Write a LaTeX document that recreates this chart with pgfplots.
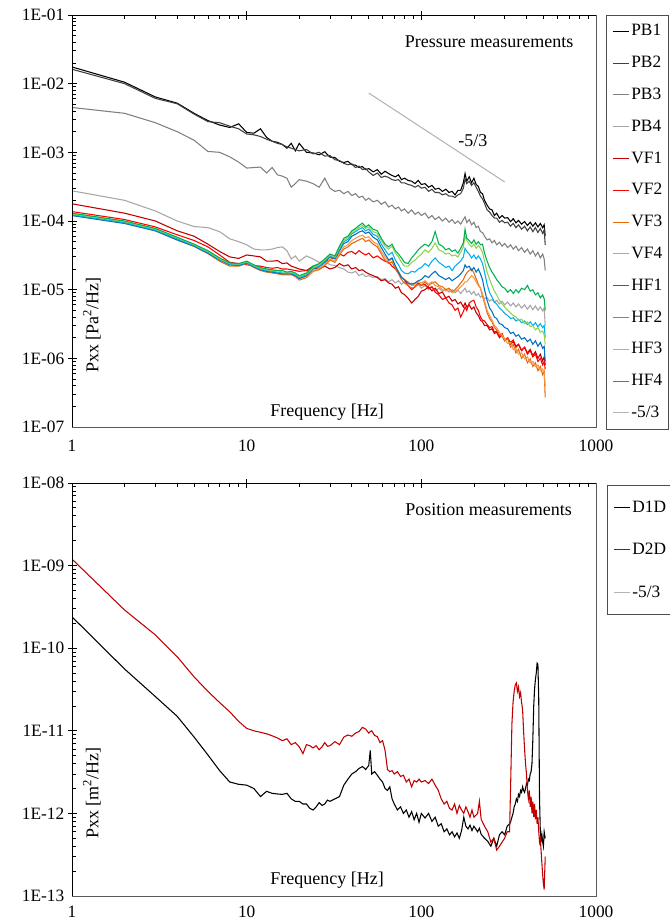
\documentclass[border=0pt]{standalone}
\usepackage{fontspec}
\setmainfont{Liberation Serif}
\usepackage{pgfplots}
\usepackage{pgfplotstable}
\pgfplotsset{compat=1.18}

\definecolor{pbA}{HTML}{000000}
\definecolor{pbB}{HTML}{404040}
\definecolor{pbC}{HTML}{808080}
\definecolor{pbD}{HTML}{A6A6A6}
\definecolor{vfA}{HTML}{C00000}
\definecolor{vfB}{HTML}{FF0000}
\definecolor{vfC}{HTML}{E46C0A}
\definecolor{vfD}{HTML}{F79646}
\definecolor{hfA}{HTML}{0070C0}
\definecolor{hfB}{HTML}{00B0F0}
\definecolor{hfC}{HTML}{92D050}
\definecolor{hfD}{HTML}{00B050}
\definecolor{slope}{HTML}{B4B4B4}

\tikzset{lbl/.style={font=\fontsize{13.5}{16}\selectfont}}

% pressure spectra
\pgfplotstableread{
f PB1 PB2 PB3 PB4 VF1 VF2 VF3 VF4 HF1 HF2 HF3 HF4
1 1.75e-2 1.62e-2 4.5e-3 2.75e-4 1.78e-4 1.37e-4 1.21e-4 1.24e-4 1.2e-4 1.23e-4 1.27e-4 1.3e-4
2 1.05e-2 1.0e-2 3.7e-3 2.0e-4 1.3e-4 1.05e-4 9.3e-5 9.5e-5 9.2e-5 9.5e-5 9.8e-5 1.0e-4
3 6.4e-3 6.1e-3 2.7e-3 1.4e-4 1.0e-4 8.2e-5 7.2e-5 7.4e-5 7.2e-5 7.4e-5 7.6e-5 7.8e-5
4 5.2e-3 5.1e-3 2.0e-3 1.0e-4 7.2e-5 6.3e-5 5.3e-5 5.4e-5 5.3e-5 5.5e-5 5.7e-5 5.8e-5
5 3.7e-3 3.6e-3 1.5e-3 8.3e-5 6.0e-5 5.2e-5 4.25e-5 4.35e-5 4.3e-5 4.4e-5 4.5e-5 4.6e-5
6 2.9e-3 2.8e-3 1.03e-3 8.0e-5 4.6e-5 4.2e-5 3.35e-5 3.45e-5 3.4e-5 3.5e-5 3.6e-5 3.7e-5
7 2.5e-3 2.7e-3 1.0e-3 7.0e-5 3.6e-5 3.2e-5 2.6e-5 2.7e-5 2.7e-5 2.75e-5 2.8e-5 2.9e-5
8 2.3e-3 2.4e-3 8.6e-4 5.5e-5 3.0e-5 2.5e-5 2.2e-5 2.3e-5 2.3e-5 2.35e-5 2.4e-5 2.45e-5
9 2.6e-3 2.2e-3 7.2e-4 5.0e-5 2.85e-5 2.4e-5 2.2e-5 2.25e-5 2.25e-5 2.3e-5 2.35e-5 2.4e-5
10 1.95e-3 1.85e-3 5.9e-4 4.5e-5 3.2e-5 2.3e-5 2.4e-5 2.45e-5 2.45e-5 2.5e-5 2.55e-5 2.6e-5
11 1.9e-3 1.8e-3 6.0e-4 3.9e-5 3.1e-5 2.25e-5 2.1e-5 2.15e-5 2.15e-5 2.2e-5 2.25e-5 2.3e-5
12 2.2e-3 1.7e-3 6.1e-4 3.8e-5 3.0e-5 2.2e-5 1.9e-5 1.95e-5 1.95e-5 2.0e-5 2.05e-5 2.1e-5
13 1.65e-3 1.55e-3 5.0e-4 3.8e-5 2.6e-5 2.1e-5 1.8e-5 1.85e-5 1.85e-5 1.9e-5 1.95e-5 2.0e-5
14 1.45e-3 1.45e-3 6.0e-4 3.9e-5 2.6e-5 2.05e-5 1.75e-5 1.8e-5 1.8e-5 1.85e-5 1.9e-5 1.95e-5
15 1.4e-3 1.35e-3 4.7e-4 4.1e-5 2.65e-5 2.1e-5 1.7e-5 1.75e-5 1.75e-5 1.8e-5 1.9e-5 1.9e-5
16 1.3e-3 1.3e-3 4.5e-4 4.2e-5 2.4e-5 2.0e-5 1.65e-5 1.7e-5 1.7e-5 1.75e-5 1.8e-5 1.9e-5
17 1.15e-3 1.2e-3 4.2e-4 3.7e-5 2.45e-5 2.0e-5 1.65e-5 1.7e-5 1.7e-5 1.75e-5 1.8e-5 1.8e-5
18 1.35e-3 1.15e-3 3.1e-4 2.8e-5 2.2e-5 1.95e-5 1.65e-5 1.7e-5 1.7e-5 1.75e-5 1.8e-5 1.85e-5
19 1.05e-3 1.1e-3 3.5e-4 3.1e-5 2.1e-5 1.9e-5 1.55e-5 1.6e-5 1.6e-5 1.65e-5 1.7e-5 1.75e-5
20 1.35e-3 1.05e-3 4.0e-4 2.6e-5 2.0e-5 1.85e-5 1.38e-5 1.42e-5 1.45e-5 1.5e-5 1.55e-5 1.6e-5
22 1.0e-3 1.1e-3 3.8e-4 3.1e-5 1.9e-5 1.9e-5 1.5e-5 1.55e-5 1.6e-5 1.65e-5 1.7e-5 1.75e-5
24 9.8e-4 9.5e-4 3.5e-4 2.8e-5 2.1e-5 2.2e-5 1.85e-5 1.9e-5 2.0e-5 2.05e-5 2.1e-5 2.2e-5
26 9.2e-4 1.0e-3 3.1e-4 2.5e-5 2.0e-5 2.3e-5 1.95e-5 2.05e-5 2.15e-5 2.2e-5 2.3e-5 2.4e-5
28 1.02e-3 8.8e-4 4.2e-4 2.6e-5 2.2e-5 2.6e-5 2.25e-5 2.35e-5 2.5e-5 2.6e-5 2.7e-5 2.8e-5
30 8.5e-4 9.0e-4 3.0e-4 2.3e-5 2.0e-5 2.7e-5 2.7e-5 2.8e-5 3.0e-5 3.1e-5 3.2e-5 3.3e-5
32 8.4e-4 7.8e-4 2.7e-4 2.25e-5 2.1e-5 3.0e-5 2.5e-5 2.6e-5 2.8e-5 2.9e-5 3.0e-5 3.1e-5
34 7.4e-4 7.6e-4 2.8e-4 2.1e-5 2.4e-5 3.3e-5 3.2e-5 3.4e-5 3.7e-5 3.9e-5 4.1e-5 4.3e-5
36 7.1e-4 6.9e-4 2.5e-4 2.0e-5 2.2e-5 3.1e-5 3.9e-5 4.2e-5 4.7e-5 5.0e-5 5.3e-5 5.6e-5
38 7.4e-4 6.6e-4 2.7e-4 1.8e-5 2.3e-5 3.5e-5 4.2e-5 4.5e-5 5.0e-5 5.4e-5 5.7e-5 6.0e-5
40 6.6e-4 6.8e-4 2.35e-4 1.75e-5 2.0e-5 3.6e-5 4.7e-5 5.2e-5 6.0e-5 6.5e-5 6.8e-5 7.2e-5
42 6.5e-4 6.0e-4 2.5e-4 1.85e-5 2.1e-5 3.3e-5 5.0e-5 5.6e-5 6.4e-5 7.0e-5 7.4e-5 7.8e-5
44 6.0e-4 6.3e-4 2.2e-4 1.6e-5 1.9e-5 3.7e-5 5.3e-5 6.0e-5 6.9e-5 7.6e-5 8.1e-5 8.6e-5
46 6.2e-4 5.6e-4 2.3e-4 1.7e-5 1.95e-5 3.4e-5 5.6e-5 6.2e-5 7.2e-5 8.0e-5 8.6e-5 9.3e-5
48 5.6e-4 5.8e-4 2.0e-4 1.55e-5 1.8e-5 3.2e-5 5.0e-5 5.7e-5 6.6e-5 7.2e-5 7.8e-5 8.2e-5
50 5.8e-4 5.2e-4 2.15e-4 1.6e-5 1.7e-5 3.4e-5 5.3e-5 5.9e-5 6.9e-5 7.6e-5 8.2e-5 8.8e-5
53 5.2e-4 4.6e-4 1.9e-4 1.5e-5 1.6e-5 2.9e-5 4.6e-5 5.0e-5 5.8e-5 6.4e-5 7.0e-5 7.6e-5
56 5.6e-4 5.0e-4 2.0e-4 1.55e-5 1.5e-5 3.1e-5 4.2e-5 4.6e-5 5.3e-5 6.0e-5 6.6e-5 7.2e-5
59 4.8e-4 4.3e-4 1.75e-4 1.4e-5 1.35e-5 2.8e-5 3.3e-5 3.6e-5 4.1e-5 4.6e-5 5.2e-5 5.6e-5
62 5.3e-4 4.5e-4 1.9e-4 1.45e-5 1.4e-5 2.6e-5 2.7e-5 3.0e-5 3.3e-5 3.8e-5 4.3e-5 4.6e-5
65 4.9e-4 4.3e-4 1.6e-4 1.3e-5 1.25e-5 2.5e-5 2.4e-5 2.6e-5 2.7e-5 3.2e-5 3.9e-5 4.2e-5
68 4.6e-4 4.0e-4 1.7e-4 1.4e-5 1.2e-5 2.2e-5 2.55e-5 2.8e-5 2.9e-5 3.5e-5 4.3e-5 4.6e-5
71 4.4e-4 3.9e-4 1.5e-4 1.25e-5 1.05e-5 2.0e-5 2.0e-5 2.2e-5 2.2e-5 2.7e-5 3.4e-5 3.7e-5
74 4.7e-4 4.0e-4 1.6e-4 1.35e-5 1.1e-5 1.8e-5 1.7e-5 1.85e-5 1.8e-5 2.3e-5 3.0e-5 3.3e-5
77 4.0e-4 3.6e-4 1.4e-4 1.2e-5 9.0e-6 1.5e-5 1.4e-5 1.55e-5 1.5e-5 1.9e-5 2.5e-5 2.9e-5
80 4.2e-4 3.6e-4 1.5e-4 1.3e-5 8.5e-6 1.4e-5 1.25e-5 1.4e-5 1.4e-5 1.75e-5 2.2e-5 2.5e-5
84 3.9e-4 3.4e-4 1.3e-4 1.15e-5 7.5e-6 1.15e-5 1.15e-5 1.3e-5 1.25e-5 1.7e-5 2.2e-5 2.4e-5
88 3.8e-4 3.3e-4 1.45e-4 1.25e-5 6.4e-6 1.0e-5 1.05e-5 1.15e-5 1.2e-5 1.85e-5 2.5e-5 2.9e-5
92 3.5e-4 3.1e-4 1.25e-4 1.1e-5 7.2e-6 1.1e-5 1.1e-5 1.2e-5 1.25e-5 1.8e-5 2.7e-5 3.3e-5
96 3.9e-4 3.3e-4 1.35e-4 1.2e-5 8.0e-6 1.25e-5 1.2e-5 1.3e-5 1.35e-5 2.0e-5 3.0e-5 3.8e-5
100 3.4e-4 3.0e-4 1.2e-4 1.05e-5 9.5e-6 1.15e-5 1.15e-5 1.25e-5 1.4e-5 2.1e-5 3.3e-5 4.2e-5
105 3.5e-4 3.1e-4 1.3e-4 1.15e-5 1.0e-5 1.2e-5 1.3e-5 1.35e-5 1.6e-5 2.4e-5 3.8e-5 4.6e-5
110 3.1e-4 2.7e-4 1.1e-4 1.0e-5 1.1e-5 1.05e-5 1.15e-5 1.2e-5 1.5e-5 2.2e-5 3.5e-5 4.3e-5
115 3.3e-4 2.9e-4 1.2e-4 1.1e-5 9.6e-6 1.1e-5 1.25e-5 1.3e-5 1.7e-5 2.6e-5 4.0e-5 5.0e-5
120 2.9e-4 2.6e-4 1.05e-4 9.6e-6 1.05e-5 9.2e-6 1.3e-5 1.15e-5 1.85e-5 2.9e-5 4.8e-5 7.0e-5
126 3.0e-4 2.6e-4 1.15e-4 1.05e-5 8.8e-6 8.4e-6 1.15e-5 1.1e-5 1.6e-5 2.5e-5 3.8e-5 4.6e-5
132 2.7e-4 2.4e-4 1.0e-4 9.4e-6 9.2e-6 7.2e-6 1.1e-5 1.0e-5 1.5e-5 2.3e-5 3.6e-5 4.3e-5
138 2.9e-4 2.5e-4 1.1e-4 1.02e-5 7.6e-6 7.6e-6 1.0e-5 9.6e-6 1.4e-5 2.1e-5 3.3e-5 3.8e-5
144 2.6e-4 2.3e-4 9.6e-5 9.2e-6 8.0e-6 6.4e-6 1.05e-5 1.0e-5 1.5e-5 2.2e-5 3.4e-5 4.0e-5
150 2.7e-4 2.3e-4 1.05e-4 1.0e-5 6.8e-6 6.0e-6 9.4e-6 9.0e-6 1.35e-5 1.9e-5 3.1e-5 3.6e-5
156 2.4e-4 2.2e-4 9.2e-5 9.0e-6 7.2e-6 5.0e-6 1.0e-5 9.5e-6 1.45e-5 2.2e-5 3.2e-5 3.8e-5
162 2.8e-4 2.4e-4 1.0e-4 9.8e-6 6.2e-6 5.4e-6 1.1e-5 1.0e-5 1.55e-5 2.4e-5 3.0e-5 3.4e-5
168 2.8e-4 2.5e-4 9.0e-5 8.8e-6 6.6e-6 4.0e-6 1.25e-5 1.1e-5 1.7e-5 2.6e-5 3.5e-5 4.0e-5
174 3.6e-4 3.0e-4 1.05e-4 9.8e-6 5.6e-6 4.8e-6 1.4e-5 1.2e-5 1.9e-5 3.0e-5 4.2e-5 4.8e-5
178 4.9e-4 4.1e-4 1.15e-4 1.05e-5 6.4e-6 5.6e-6 1.6e-5 1.3e-5 2.3e-5 4.0e-5 6.0e-5 7.6e-5
182 3.8e-4 3.5e-4 9.5e-5 9.2e-6 5.6e-6 5.0e-6 1.75e-5 1.3e-5 2.1e-5 3.6e-5 5.2e-5 5.6e-5
188 4.4e-4 3.8e-4 1.05e-4 9.6e-6 6.0e-6 6.4e-6 1.9e-5 1.45e-5 2.2e-5 3.3e-5 4.6e-5 5.2e-5
194 3.6e-4 3.3e-4 8.8e-5 8.6e-6 5.2e-6 6.8e-6 2.0e-5 1.6e-5 1.9e-5 2.9e-5 4.2e-5 4.7e-5
200 4.2e-4 3.6e-4 9.6e-5 9.4e-6 5.6e-6 7.0e-6 1.75e-5 1.5e-5 2.1e-5 3.2e-5 4.6e-5 5.3e-5
206 3.4e-4 3.1e-4 8.0e-5 8.2e-6 4.6e-6 5.6e-6 1.45e-5 1.3e-5 1.8e-5 2.8e-5 4.0e-5 4.6e-5
212 3.2e-4 2.7e-4 8.4e-5 8.8e-6 4.2e-6 5.0e-6 1.2e-5 1.15e-5 2.0e-5 3.1e-5 4.4e-5 5.0e-5
218 2.6e-4 2.3e-4 7.0e-5 7.8e-6 3.6e-6 4.0e-6 1.05e-5 1.05e-5 1.7e-5 2.8e-5 4.0e-5 4.5e-5
224 2.5e-4 2.1e-4 6.8e-5 8.2e-6 3.4e-6 3.6e-6 8.0e-6 8.6e-6 1.4e-5 2.4e-5 3.5e-5 4.6e-5
230 2.0e-4 1.8e-4 6.0e-5 7.4e-6 3.0e-6 3.5e-6 6.4e-6 6.8e-6 1.0e-5 1.8e-5 2.6e-5 3.4e-5
238 1.7e-4 1.45e-4 5.3e-5 7.6e-6 3.0e-6 3.1e-6 4.6e-6 5.0e-6 7.0e-6 1.2e-5 1.8e-5 2.6e-5
246 1.5e-4 1.35e-4 5.5e-5 6.8e-6 2.6e-6 2.8e-6 3.8e-6 4.2e-6 5.4e-6 9.0e-6 1.4e-5 2.1e-5
254 1.45e-4 1.2e-4 4.8e-5 7.2e-6 2.7e-6 2.9e-6 3.4e-6 3.6e-6 4.8e-6 7.8e-6 1.15e-5 1.8e-5
262 1.2e-4 1.1e-4 5.2e-5 6.5e-6 2.3e-6 2.4e-6 2.8e-6 3.0e-6 4.0e-6 6.6e-6 9.5e-6 1.6e-5
270 1.3e-4 1.1e-4 4.5e-5 7.0e-6 2.4e-6 2.5e-6 2.6e-6 2.8e-6 3.8e-6 6.2e-6 8.4e-6 1.4e-5
280 1.1e-4 9.6e-5 4.9e-5 6.2e-6 2.0e-6 2.1e-6 2.2e-6 2.4e-6 3.2e-6 5.4e-6 7.0e-6 1.25e-5
290 1.2e-4 1.02e-4 4.3e-5 6.8e-6 2.2e-6 2.3e-6 2.1e-6 2.2e-6 3.1e-6 5.0e-6 6.2e-6 1.1e-5
300 1.1e-4 9.4e-5 4.7e-5 6.0e-6 1.8e-6 1.85e-6 1.8e-6 1.9e-6 2.8e-6 4.5e-6 5.6e-6 1.05e-5
312 1.12e-4 9.6e-5 4.1e-5 6.6e-6 1.95e-6 2.0e-6 1.95e-6 1.65e-6 2.7e-6 4.2e-6 5.0e-6 9.2e-6
324 9.8e-5 8.4e-5 4.5e-5 5.8e-6 1.6e-6 1.7e-6 1.45e-6 1.7e-6 2.3e-6 3.8e-6 4.6e-6 1.0e-5
336 1.08e-4 9.2e-5 3.9e-5 6.4e-6 1.75e-6 1.85e-6 1.6e-6 1.35e-6 2.4e-6 3.9e-6 4.2e-6 8.8e-6
348 9.4e-5 8.0e-5 4.3e-5 5.6e-6 1.45e-6 1.5e-6 1.2e-6 1.4e-6 2.1e-6 3.5e-6 4.0e-6 1.0e-5
360 1.02e-4 8.8e-5 3.7e-5 6.2e-6 1.6e-6 1.6e-6 1.35e-6 1.15e-6 2.2e-6 3.7e-6 3.6e-6 9.0e-6
375 9.0e-5 7.6e-5 4.1e-5 5.4e-6 1.3e-6 1.3e-6 1.0e-6 1.2e-6 1.9e-6 3.3e-6 3.7e-6 1.05e-5
390 9.8e-5 8.4e-5 3.5e-5 6.0e-6 1.45e-6 1.45e-6 1.15e-6 9.8e-7 2.0e-6 3.5e-6 3.2e-6 1.0e-5
405 8.6e-5 7.2e-5 3.9e-5 5.2e-6 1.2e-6 1.15e-6 8.6e-7 1.05e-6 1.75e-6 3.1e-6 3.4e-6 1.15e-5
420 9.6e-5 8.2e-5 3.3e-5 5.9e-6 1.35e-6 1.3e-6 9.8e-7 8.6e-7 1.9e-6 3.4e-6 2.9e-6 9.5e-6
435 8.4e-5 7.0e-5 3.7e-5 5.1e-6 1.1e-6 1.05e-6 7.6e-7 9.0e-7 1.6e-6 3.0e-6 3.0e-6 1.0e-5
450 9.4e-5 8.0e-5 3.1e-5 5.8e-6 1.25e-6 1.15e-6 8.6e-7 7.6e-7 1.8e-6 3.3e-6 2.6e-6 8.4e-6
465 8.2e-5 6.8e-5 3.5e-5 5.0e-6 1.0e-6 9.0e-7 6.6e-7 8.0e-7 1.5e-6 2.9e-6 2.8e-6 9.0e-6
480 9.2e-5 7.8e-5 2.9e-5 5.6e-6 1.15e-6 1.0e-6 7.6e-7 6.6e-7 1.7e-6 3.2e-6 2.4e-6 7.6e-6
495 8.0e-5 6.6e-5 3.3e-5 4.9e-6 9.2e-7 8.0e-7 5.8e-7 7.0e-7 1.4e-6 2.8e-6 2.5e-6 8.4e-6
505 8.8e-5 7.4e-5 2.8e-5 5.4e-6 1.05e-6 9.0e-7 6.6e-7 6.0e-7 1.5e-6 3.0e-6 2.2e-6 7.4e-6
512 6.0e-5 4.5e-5 1.9e-5 3.0e-6 8.0e-7 7.0e-7 2.7e-7 4.0e-7 9.0e-7 2.0e-6 1.6e-6 5.0e-6
}\pressure

% position spectra
\pgfplotstableread{
f D1D D2D
1 2.4e-10 1.2e-9
2 5.6e-11 2.9e-10
3 2.6e-11 1.45e-10
4 1.5e-11 7.9e-11
5 8.4e-12 4.5e-11
6 5.1e-12 3.0e-11
7 3.3e-12 2.2e-11
8 2.4e-12 1.7e-11
9 2.25e-12 1.3e-11
10 2.2e-12 1.07e-11
11 2.0e-12 1.0e-11
12 1.6e-12 9.6e-12
13 1.85e-12 9.2e-12
14 1.75e-12 8.7e-12
15 1.72e-12 8.2e-12
16 1.7e-12 7.6e-12
17 1.75e-12 8.0e-12
18 1.5e-12 6.8e-12
19 1.4e-12 7.2e-12
20 1.4e-12 6.4e-12
21 1.3e-12 5.3e-12
22 1.3e-12 6.8e-12
23 1.15e-12 6.6e-12
24 1.1e-12 6.2e-12
25 1.2e-12 6.6e-12
26 1.35e-12 5.9e-12
27 1.25e-12 6.4e-12
28 1.3e-12 7.2e-12
29 1.45e-12 6.5e-12
30 1.4e-12 6.6e-12
32 1.5e-12 7.4e-12
34 1.6e-12 6.8e-12
36 2.2e-12 8.4e-12
38 2.6e-12 8.9e-12
40 3.0e-12 8.6e-12
42 3.2e-12 9.4e-12
44 3.5e-12 9.8e-12
46 3.7e-12 1.1e-11
48 3.4e-12 1.05e-11
50 3.8e-12 9.4e-12
51 5.8e-12 9.8e-12
52 3.0e-12 1.0e-11
54 3.2e-12 8.8e-12
56 2.9e-12 8.5e-12
58 2.6e-12 7.2e-12
60 2.4e-12 7.6e-12
62 2.0e-12 5.8e-12
64 1.9e-12 3.4e-12
66 2.1e-12 3.2e-12
68 1.5e-12 3.3e-12
70 1.3e-12 3.0e-12
73 1.1e-12 3.2e-12
76 1.2e-12 2.8e-12
79 1.0e-12 2.9e-12
82 1.1e-12 2.4e-12
85 9.0e-13 2.6e-12
88 1.05e-12 2.1e-12
91 8.4e-13 2.5e-12
94 1.0e-12 2.4e-12
97 7.8e-13 2.6e-12
100 1.0e-12 2.4e-12
105 8.8e-13 2.5e-12
110 1.0e-12 2.3e-12
115 8.0e-13 2.6e-12
120 9.0e-13 2.2e-12
125 7.0e-13 1.9e-12
130 7.5e-13 1.5e-12
135 6.0e-13 1.3e-12
140 6.5e-13 1.4e-12
145 5.5e-13 1.15e-12
150 6.0e-13 1.1e-12
155 5.2e-13 1.3e-12
160 5.8e-13 1.0e-12
165 5.0e-13 1.25e-12
170 6.2e-13 1.1e-12
175 9.0e-13 1.0e-12
180 7.0e-13 1.2e-12
185 6.5e-13 1.05e-12
190 7.2e-13 9.0e-13
195 6.2e-13 1.1e-12
200 7.0e-13 9.0e-13
210 6.0e-13 1.0e-12
215 6.6e-13 1.4e-12
220 5.6e-13 8.5e-13
230 5.0e-13 7.0e-13
240 4.6e-13 6.0e-13
250 4.0e-13 4.5e-13
260 5.0e-13 5.0e-13
270 4.0e-13 3.6e-13
280 5.5e-13 4.0e-13
290 6.0e-13 4.5e-13
300 5.5e-13 5.0e-13
310 7.0e-13 6.0e-13
320 7.5e-13 6.0e-13
325 8.0e-13 2.5e-12
330 9.0e-13 1.2e-11
335 1.0e-12 2.2e-11
340 1.2e-12 3.0e-11
345 1.3e-12 3.6e-11
350 1.5e-12 3.8e-11
355 1.4e-12 3.0e-11
360 1.7e-12 3.4e-11
365 1.6e-12 2.6e-11
370 1.9e-12 2.9e-11
375 1.8e-12 2.2e-11
380 2.1e-12 1.8e-11
385 1.9e-12 1.0e-11
390 1.8e-12 6.0e-12
395 2.0e-12 4.0e-12
400 2.3e-12 3.0e-12
405 2.2e-12 1.9e-12
410 2.6e-12 1.5e-12
415 2.5e-12 1.9e-12
420 3.0e-12 1.2e-12
425 3.2e-12 1.6e-12
430 4.0e-12 1.0e-12
435 8.0e-12 1.4e-12
440 2.0e-11 9.0e-13
445 3.2e-11 1.3e-12
450 4.2e-11 8.5e-13
455 5.0e-11 1.1e-12
460 6.6e-11 7.5e-13
465 6.4e-11 9.0e-13
470 2.5e-11 6.0e-13
475 1.5e-12 4.5e-13
480 6.0e-13 5.0e-13
485 4.5e-13 3.5e-13
490 5.5e-13 2.5e-13
495 4.5e-13 1.8e-13
500 4.0e-13 1.4e-13
505 6.0e-13 1.2e-13
512 5.0e-13 3.0e-13
}\position

\begin{document}
\begin{tikzpicture}
\useasboundingbox (0,0) rectangle (501.75pt,692.25pt);

\begin{axis}[at={(54pt,372pt)}, anchor=south west,
  scale only axis, width=393pt, height=309pt,
  xmode=log, ymode=log, xmin=1, xmax=1000,
  ymin=1e-7, ymax=1e-1,
  xtick={1,10,100,1000}, xticklabels={1,10,100,1000},
  minor xtick={2,3,4,5,6,7,8,9,20,30,40,50,60,70,80,90,200,300,400,500,600,700,800,900},
  ytick={1e-7,1e-6,1e-5,1e-4,1e-3,1e-2,1e-1},
  yticklabels={1E-07,1E-06,1E-05,1E-04,1E-03,1E-02,1E-01},
  minor ytick={2e-7,3e-7,4e-7,5e-7,6e-7,7e-7,8e-7,9e-7,2e-6,3e-6,4e-6,5e-6,6e-6,7e-6,8e-6,9e-6,2e-5,3e-5,4e-5,5e-5,6e-5,7e-5,8e-5,9e-5,2e-4,3e-4,4e-4,5e-4,6e-4,7e-4,8e-4,9e-4,2e-3,3e-3,4e-3,5e-3,6e-3,7e-3,8e-3,9e-3,2e-2,3e-2,4e-2,5e-2,6e-2,7e-2,8e-2,9e-2},
  extra x ticks={10,100}, extra x tick labels={,},
  extra y ticks={1e-6,1e-5,1e-4,1e-3,1e-2,1e-1}, extra y tick labels={,,,,,},
  extra tick style={tick align=outside, major tick length=3pt},
  xtick pos=upper, xticklabel pos=lower,
  ytick pos=left, yticklabel pos=left,
  tick align=inside, major tick length=3.75pt, minor tick length=3pt,
  tick style={black, line width=0.6pt},
  axis line style={black!65, line width=0.6pt},
  tick label style={font=\fontsize{13}{15}\selectfont},
  yticklabel style={xshift=-2.25pt},
  xticklabel style={yshift=-6pt},
  legend cell align=left,
  legend image code/.code={\draw[#1] (0pt,0pt) -- (12pt,0pt);},
  legend style={at={(1.0191,1)}, anchor=north west, draw=black!70, fill=white,
    font=\fontsize{13}{15}\selectfont, inner xsep=4.5pt, inner ysep=5.5pt,
    row sep=10.85pt, column sep=1.5pt,
    nodes={inner sep=0pt, text height=10pt, text depth=3pt, text=black}},
  every axis plot/.append style={line width=0.8pt},
]
\addplot[color=pbA] table[x=f, y=PB1] {\pressure};
\addlegendentry{PB1}
\addplot[color=pbB] table[x=f, y=PB2] {\pressure};
\addlegendentry{PB2}
\addplot[color=pbC] table[x=f, y=PB3] {\pressure};
\addlegendentry{PB3}
\addplot[color=pbD] table[x=f, y=PB4] {\pressure};
\addlegendentry{PB4}
\addplot[color=vfA] table[x=f, y=VF1] {\pressure};
\addlegendentry{VF1}
\addplot[color=vfB] table[x=f, y=VF2] {\pressure};
\addlegendentry{VF2}
\addplot[color=vfC] table[x=f, y=VF3] {\pressure};
\addlegendentry{VF3}
\addplot[color=vfD] table[x=f, y=VF4] {\pressure};
\addlegendentry{VF4}
\addplot[color=hfA] table[x=f, y=HF1] {\pressure};
\addlegendentry{HF1}
\addplot[color=hfB] table[x=f, y=HF2] {\pressure};
\addlegendentry{HF2}
\addplot[color=hfC] table[x=f, y=HF3] {\pressure};
\addlegendentry{HF3}
\addplot[color=hfD] table[x=f, y=HF4] {\pressure};
\addlegendentry{HF4}
\addplot[color=slope] coordinates {(50,7.3e-3) (300,3.7e-4)};
\addlegendentry{-5/3}
\draw[black, line width=0.6pt] (rel axis cs:0,0) -- (rel axis cs:0,1) -- (rel axis cs:1,1);
\node[lbl] at (rel axis cs:0.796,0.934) {Pressure measurements};
\node[lbl] at (rel axis cs:0.765,0.694) {-5/3};
\node[lbl] at (rel axis cs:0.487,0.036) {Frequency [Hz]};
\node[lbl, rotate=90] at (rel axis cs:0.038,0.248) {Pxx [Pa\textsuperscript{2}/Hz]};
\end{axis}

\begin{axis}[at={(54pt,20.25pt)}, anchor=south west,
  scale only axis, width=393pt, height=309.75pt,
  xmode=log, ymode=log, xmin=1, xmax=1000,
  ymin=1e-13, ymax=1e-8,
  xtick={1,10,100,1000}, xticklabels={1,10,100,1000},
  minor xtick={2,3,4,5,6,7,8,9,20,30,40,50,60,70,80,90,200,300,400,500,600,700,800,900},
  ytick={1e-13,1e-12,1e-11,1e-10,1e-9,1e-8},
  yticklabels={1E-13,1E-12,1E-11,1E-10,1E-09,1E-08},
  minor ytick={2e-13,3e-13,4e-13,5e-13,6e-13,7e-13,8e-13,9e-13,2e-12,3e-12,4e-12,5e-12,6e-12,7e-12,8e-12,9e-12,2e-11,3e-11,4e-11,5e-11,6e-11,7e-11,8e-11,9e-11,2e-10,3e-10,4e-10,5e-10,6e-10,7e-10,8e-10,9e-10,2e-9,3e-9,4e-9,5e-9,6e-9,7e-9,8e-9,9e-9},
  extra x ticks={10,100}, extra x tick labels={,},
  extra y ticks={1e-12,1e-11,1e-10,1e-9,1e-8}, extra y tick labels={,,,,},
  extra tick style={tick align=outside, major tick length=3pt},
  xtick pos=upper, xticklabel pos=lower,
  ytick pos=left, yticklabel pos=left,
  tick align=inside, major tick length=3.75pt, minor tick length=3pt,
  tick style={black, line width=0.6pt},
  axis line style={black!65, line width=0.6pt},
  tick label style={font=\fontsize{13}{15}\selectfont},
  yticklabel style={xshift=-2.25pt},
  xticklabel style={yshift=-4pt},
  legend cell align=left,
  legend image code/.code={\draw[#1] (0pt,0pt) -- (12pt,0pt);},
  legend style={at={(1.021,0.995)}, anchor=north west, draw=black!70, fill=white,
    font=\fontsize{13}{15}\selectfont, inner xsep=4.5pt, inner ysep=10pt,
    row sep=18.9pt, column sep=1.5pt,
    nodes={inner sep=0pt, text height=10pt, text depth=3pt, text=black}},
  every axis plot/.append style={line width=0.8pt},
]
\addplot[color=pbA] table[x=f, y=D1D] {\position};
\addlegendentry{D1D}
\addplot[color=vfA] table[x=f, y=D2D] {\position};
\addlegendentry{D2D}
\addlegendimage{color=slope, line width=0.8pt}
\addlegendentry{-5/3}
\draw[black, line width=0.6pt] (rel axis cs:0,0) -- (rel axis cs:0,1) -- (rel axis cs:1,1);
\node[lbl] at (rel axis cs:0.795,0.935) {Position measurements};
\node[lbl] at (rel axis cs:0.487,0.039) {Frequency [Hz]};
\node[lbl, rotate=90] at (rel axis cs:0.038,0.249) {Pxx [m\textsuperscript{2}/Hz]};
\end{axis}
\end{tikzpicture}
\end{document}
